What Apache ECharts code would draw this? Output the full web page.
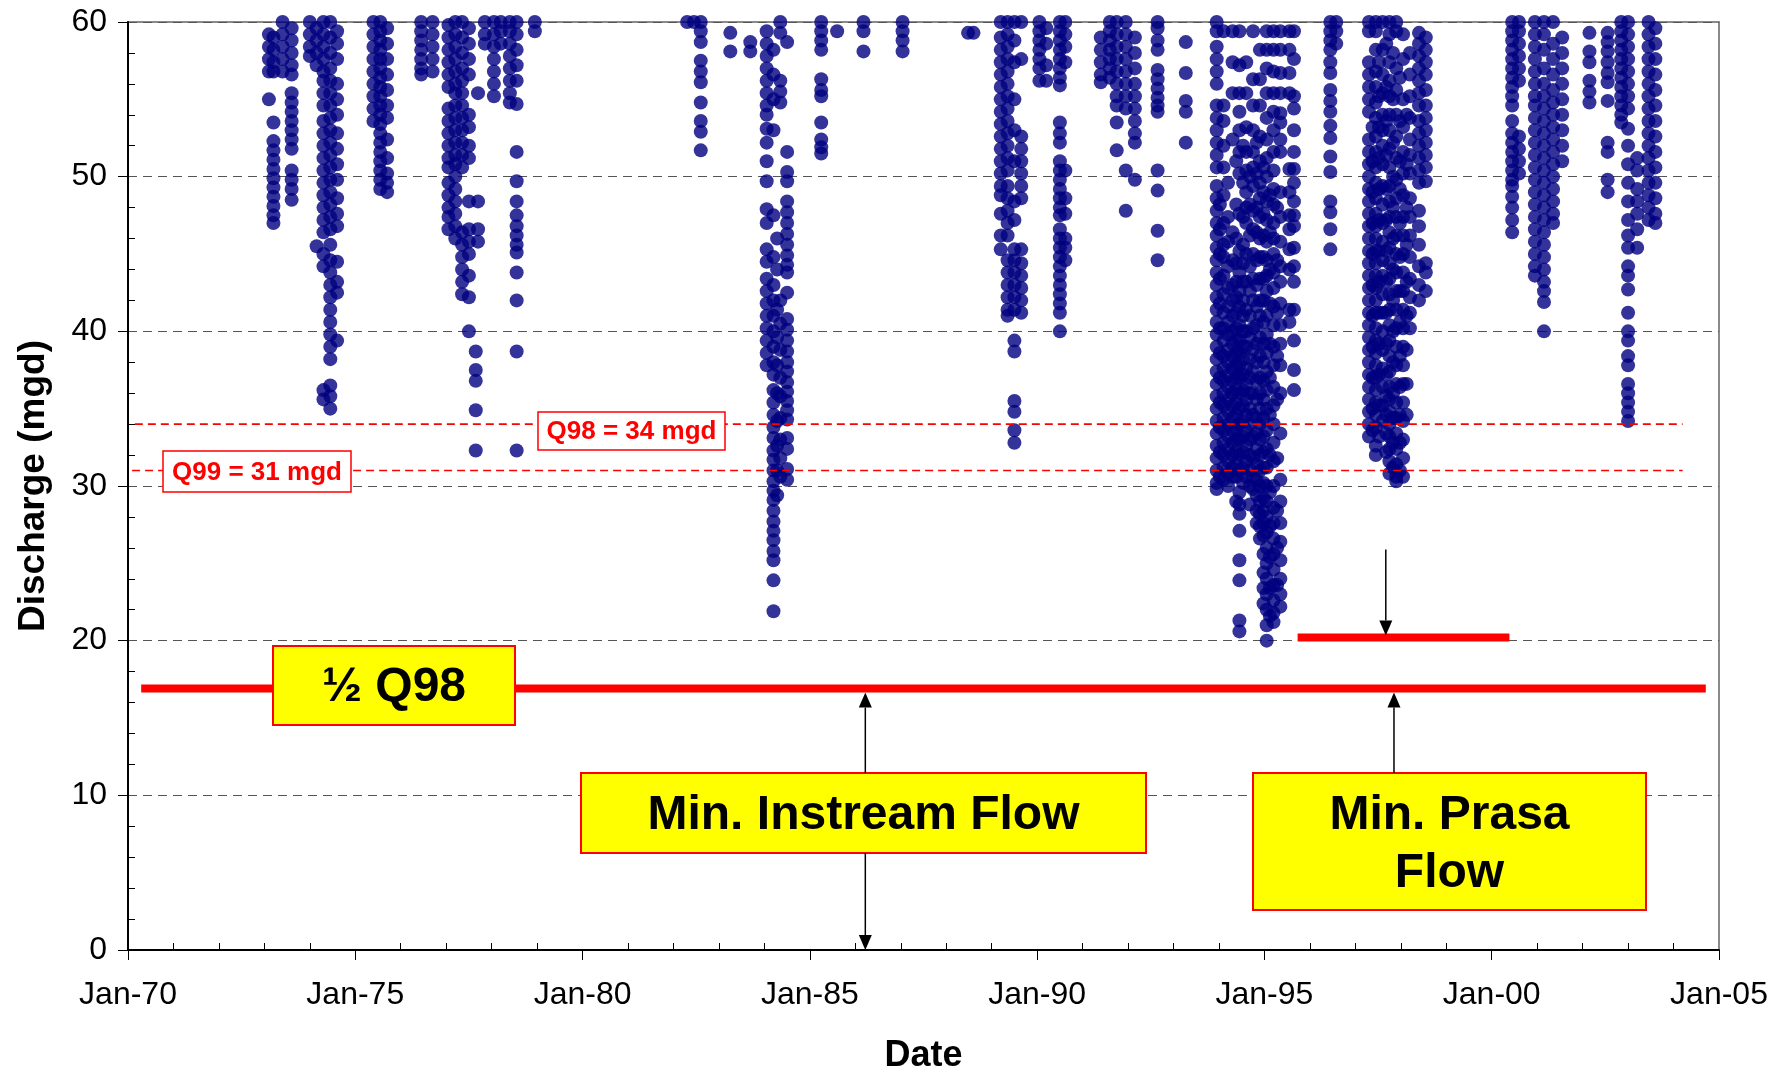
<!DOCTYPE html>
<html>
<head>
<meta charset="utf-8">
<title>Discharge record</title>
<script src="https://cdn.jsdelivr.net/npm/echarts@6/dist/echarts.min.js"></script>
<style>
  html, body { margin: 0; padding: 0; background: #fff; }
  #chart { width: 1791px; height: 1072px; }
</style>
</head>
<body>
<div id="chart"></div>
<script>
// Daily discharges below 60 mgd, grouped by date column: [decimal year, [mgd values]]
const flows1970s = [
  [1973.10, [59.2, 58.4, 57.6, 56.8, 55.0]],
  [1973.20, [59.0, 58.2, 57.4, 56.8, 53.5, 52.3, 51.7, 51.1, 50.5, 49.9, 49.3, 48.7, 48.1, 47.5, 47.0]],
  [1973.40, [60.0, 59.2, 58.4, 57.6, 56.8]],
  [1973.60, [59.6, 58.8, 58.0, 57.2, 56.6, 55.4, 54.8, 54.2, 53.6, 53.0, 52.4, 51.8, 50.4, 49.8, 49.2, 48.5]],
  [1974.00, [60.0, 59.2, 58.4, 57.8]],
  [1974.15, [59.6, 58.8, 58.0, 57.2, 45.5]],
  [1974.30, [60.0, 59.2, 58.4, 57.6, 56.8, 56.2, 55.4, 54.6, 53.6, 52.8, 52.0, 51.2, 50.4, 49.6, 48.8, 48.0, 47.2, 46.4, 45.0, 44.2, 36.2, 35.6]],
  [1974.45, [60.0, 59.0, 58.0, 57.0, 56.2, 55.4, 54.6, 53.8, 53.0, 52.2, 51.4, 50.6, 49.8, 49.0, 48.2, 47.4, 46.6, 45.6, 44.6, 43.8, 43.0, 42.2, 41.4, 40.6, 39.8, 39.0, 38.2, 36.5, 35.8, 35.0]],
  [1974.60, [59.4, 58.6, 57.6, 56.0, 55.0, 54.0, 52.8, 51.8, 50.8, 49.8, 48.6, 47.6, 46.8, 44.5, 43.2, 42.5, 39.4]],
  [1975.40, [60.0, 59.2, 58.4, 57.6, 56.8, 56.0, 55.2, 54.4, 53.6]],
  [1975.55, [60.0, 59.4, 58.8, 58.2, 57.6, 57.0, 56.4, 55.8, 55.2, 54.6, 54.0, 53.4, 52.8, 52.2, 51.6, 51.0, 50.4, 49.8, 49.2]],
  [1975.70, [59.6, 58.6, 57.6, 56.6, 55.6, 54.6, 53.8, 52.4, 51.2, 50.2, 49.6, 49.0]],
  [1976.45, [60.0, 59.4, 58.8, 58.2, 57.6, 57.0, 56.6]],
  [1976.70, [60.0, 59.2, 58.4, 57.6, 56.8]],
  [1977.05, [59.8, 59.0, 58.2, 57.4, 56.6, 55.8, 54.4, 53.6, 52.8, 52.0, 51.2, 50.6, 49.6, 48.8, 48.0, 47.4, 46.6]],
  [1977.20, [60.0, 59.2, 58.4, 57.6, 56.8, 56.0, 55.4, 54.6, 53.8, 53.0, 52.2, 51.4, 50.8, 50.0, 49.2, 48.4, 47.6, 46.8, 46.0]],
  [1977.35, [60.0, 59.0, 58.0, 57.0, 56.2, 55.4, 54.6, 53.8, 53.0, 52.2, 51.4, 50.6, 46.4, 45.6, 44.8, 44.0, 43.2, 42.4]],
  [1977.50, [59.6, 58.6, 57.6, 56.6, 54.0, 53.2, 52.0, 51.2, 48.4, 46.6, 45.8, 45.0, 43.6, 42.2, 40.0]],
  [1977.65, [38.7, 37.5, 36.8, 34.9, 32.3]],
  [1977.70, [55.4, 48.4, 46.6, 45.8]],
  [1977.85, [60.0, 59.2, 58.6]],
  [1978.05, [60.0, 59.2, 58.4, 57.6, 56.8, 56.0, 55.2]],
  [1978.20, [60.0, 59.4, 58.6]],
  [1978.40, [60.0, 59.4, 58.6, 57.8, 57.0, 56.2, 55.4, 54.8]],
  [1978.55, [60.0, 59.2, 58.2, 57.2, 56.2, 54.7, 51.6, 49.7, 48.4, 47.5, 46.8, 46.2, 45.6, 45.1, 43.8, 42.0, 38.7, 32.3]],
  [1978.95, [60.0, 59.4]]
];

const flows1980s = [
  [1982.30, [60.0]],
  [1982.45, [60.0]],
  [1982.60, [60.0, 59.4, 58.7, 57.5, 56.8, 56.1, 54.8, 53.6, 52.9, 51.7]],
  [1983.25, [59.3, 58.1]],
  [1983.69, [58.7, 58.1]],
  [1984.05, [59.4, 58.6, 57.8, 57.0, 56.2, 55.4, 54.6, 54.0, 53.1, 52.2, 51.0, 49.7, 47.9, 47.0, 45.3, 44.5, 43.4, 42.6, 41.8, 41.0, 40.2, 39.4, 38.6, 37.8]],
  [1984.20, [58.2, 56.6, 55.0, 53.0, 47.5, 44.8, 43.0, 42.0, 41.0, 40.0, 39.0, 38.0, 37.2, 36.2, 35.4, 34.6, 33.8, 33.1, 32.3, 31.7, 31.0, 30.3, 29.7, 29.1, 28.4, 27.7, 27.1, 26.5, 25.8, 25.2, 23.9, 21.9]],
  [1984.28, [46.0, 44.0, 41.4, 39.6, 37.8, 36.0, 34.2, 32.6, 31.0, 29.4]],
  [1984.35, [60.0, 59.3, 56.2, 55.5, 54.8, 42.0, 40.5, 38.8, 37.0, 35.8, 34.4, 33.0, 31.8, 30.6]],
  [1984.50, [58.7, 51.6, 50.3, 49.7, 48.4, 47.7, 47.0, 46.3, 45.6, 44.9, 44.3, 43.8, 42.5, 40.8, 40.1, 39.4, 38.7, 38.0, 37.4, 36.7, 36.1, 35.5, 34.9, 34.3, 33.1, 32.4, 31.1, 30.4]],
  [1985.25, [60.0, 59.4, 58.8, 58.2, 56.3, 55.6, 55.2, 53.5, 52.4, 51.9, 51.5]],
  [1985.60, [59.4]],
  [1986.18, [60.0, 59.4, 58.1]],
  [1987.04, [60.0, 59.4, 58.8, 58.1]],
  [1988.48, [59.3]],
  [1988.60, [59.3]],
  [1989.20, [60.0, 59.0, 58.2, 57.4, 56.6, 55.8, 55.0, 54.2, 53.4, 52.6, 51.8, 51.0, 50.2, 49.4, 48.8, 47.6, 46.2, 45.3]],
  [1989.35, [60.0, 59.2, 58.4, 57.6, 56.8, 56.0, 55.2, 54.4, 53.6, 52.8, 52.0, 51.2, 50.4, 49.4, 48.6, 47.8, 47.0, 46.2, 44.6, 43.8, 43.0, 42.2, 41.4, 41.0]],
  [1989.50, [60.0, 58.8, 57.4, 55.0, 53.0, 51.0, 48.4, 47.2, 45.3, 44.6, 43.8, 43.0, 42.2, 41.4, 39.4, 38.7, 35.5, 34.8, 33.6, 32.8]],
  [1989.65, [60.0, 57.6, 52.6, 51.8, 51.0, 50.2, 49.4, 48.6, 45.3, 44.4, 43.6, 42.8, 42.0, 41.2]]
];

const flows1990s = [
  [1990.05, [60.0, 59.4, 58.8, 58.2, 57.6, 57.0, 56.2]],
  [1990.20, [59.6, 58.6, 57.2, 56.2]],
  [1990.50, [60.0, 59.4, 58.8, 58.2, 57.6, 57.0, 56.4, 55.9, 53.5, 52.8, 52.2, 51.0, 50.4, 49.8, 49.2, 48.6, 48.0, 47.5, 46.6, 46.0, 45.4, 44.8, 44.2, 43.6, 43.0, 42.4, 41.8, 41.2, 40.0]],
  [1990.62, [60.0, 59.2, 58.4, 57.4, 50.4, 48.6, 47.6, 46.0, 45.4, 44.6]],
  [1991.40, [59.0, 58.2, 57.4, 56.6, 56.1]],
  [1991.60, [60.0, 59.4, 58.8, 58.2, 57.6, 57.0, 56.4]],
  [1991.75, [60.0, 59.2, 58.4, 57.6, 56.8, 56.0, 55.2, 54.6, 53.5, 51.7]],
  [1991.95, [60.0, 59.2, 58.4, 57.6, 56.8, 56.0, 55.2, 54.4, 50.4, 47.8]],
  [1992.15, [59.0, 58.0, 57.0, 56.0, 55.2, 54.4, 53.6, 52.8, 52.2, 49.8]],
  [1992.65, [60.0, 59.6, 58.8, 58.2, 56.9, 56.3, 55.7, 55.1, 54.6, 54.2, 50.4, 49.1, 46.5, 44.6]],
  [1993.27, [58.7, 56.7, 54.9, 54.2, 52.2]],
  [1993.95, [60.0, 59.4, 58.4, 57.6, 56.8, 56.0, 54.6, 53.8, 53.0, 52.2, 51.4, 50.6, 49.4, 48.6, 47.8, 47.0, 46.2, 45.4, 44.6, 43.8, 43.0, 42.2, 41.4, 40.6, 39.8, 39.0, 38.2, 37.4, 36.6, 35.8, 35.0, 34.2, 33.4, 32.6, 31.8, 31.0, 30.2, 29.8]],
  [1994.02, [48.2, 46.6, 45.0, 43.4, 41.8, 40.2, 38.6, 37.0, 35.4, 33.8, 32.2, 30.6]],
  [1994.10, [59.4, 54.6, 53.6, 52.0, 50.6, 48.8, 47.0, 45.6, 44.8, 43.6, 42.4, 41.2, 40.2, 39.4, 38.4, 37.6, 36.8, 36.0, 35.2, 34.4, 33.6, 32.8, 32.0, 31.2, 30.4]],
  [1994.20, [49.6, 47.4, 45.8, 44.2, 42.8, 41.6, 40.6, 39.8, 38.8, 38.0, 37.2, 36.4, 35.6, 34.8, 34.0, 33.2, 32.4, 31.6, 30.8, 30.0]],
  [1994.30, [59.4, 57.4, 55.4, 52.4, 46.4, 44.6, 43.0, 42.0, 41.0, 40.0, 39.2, 38.4, 37.6, 36.8, 36.0, 35.2, 34.4, 33.6, 32.8, 32.0, 31.2, 30.6]],
  [1994.38, [51.0, 48.2, 46.0, 44.4, 43.2, 42.2, 41.2, 40.2, 39.4, 38.6, 37.8, 37.0, 36.2, 35.4, 34.6, 33.8, 33.0, 32.2, 31.4, 30.6, 29.0]],
  [1994.45, [59.4, 57.2, 55.4, 54.2, 53.0, 51.6, 50.2, 47.6, 45.2, 43.8, 42.6, 41.6, 40.4, 39.4, 38.6, 37.8, 37.0, 36.0, 35.0, 34.0, 33.0, 32.0, 31.0, 29.6, 28.8, 28.2, 27.1, 25.2, 23.9, 21.3, 20.6]],
  [1994.53, [52.0, 49.6, 47.4, 45.6, 44.4, 43.2, 42.0, 41.0, 40.0, 39.0, 38.2, 37.2, 36.2, 35.2, 34.2, 33.2, 32.2, 31.2, 30.2]],
  [1994.60, [57.4, 55.4, 53.2, 51.6, 50.4, 49.0, 48.0, 47.0, 45.0, 43.2, 41.4, 40.0, 39.0, 37.6, 36.6, 35.6, 34.6, 33.6, 32.6, 31.6, 30.6]],
  [1994.68, [50.0, 48.2, 46.2, 44.2, 42.6, 41.0, 39.6, 38.2, 37.0, 36.0, 35.0, 34.0, 33.0, 32.0, 31.0, 30.0, 28.8]],
  [1994.75, [59.4, 56.3, 54.6, 53.0, 51.6, 50.6, 49.4, 47.8, 46.6, 45.0, 43.4, 42.0, 40.2, 38.8, 37.4, 36.0, 34.6, 33.2, 31.8, 30.6, 29.8]],
  [1994.83, [52.2, 50.2, 48.0, 46.4, 44.6, 43.0, 41.6, 40.4, 39.2, 38.0, 36.8, 35.6, 34.4, 33.4, 32.4, 31.4, 30.4, 29.4, 28.4, 27.6]],
  [1994.90, [58.2, 56.3, 54.6, 52.6, 51.0, 49.6, 48.6, 47.4, 46.0, 44.8, 43.4, 42.0, 41.0, 39.6, 38.4, 37.0, 36.0, 35.0, 34.0, 33.0, 32.0, 31.0, 30.0, 29.0, 28.2, 27.4, 26.6]],
  [1994.98, [50.6, 49.0, 47.6, 46.2, 44.8, 43.4, 42.0, 40.6, 39.2, 38.0, 36.8, 35.6, 34.4, 33.2, 32.2, 31.2, 30.2, 29.2, 28.4, 27.6, 26.8, 25.6, 24.4, 23.4, 22.4]],
  [1995.05, [59.4, 58.2, 57.0, 55.4, 53.8, 52.4, 51.2, 50.0, 48.4, 47.2, 45.8, 44.6, 43.6, 42.6, 41.0, 39.8, 38.6, 37.4, 36.2, 35.0, 33.6, 32.4, 31.2, 30.0, 29.0, 28.0, 27.0, 26.0, 25.0, 24.0, 23.0, 22.0, 21.0, 20.0]],
  [1995.12, [48.8, 46.4, 44.0, 41.8, 39.2, 37.0, 34.6, 32.0, 29.6, 27.4, 25.4, 23.4, 21.6]],
  [1995.20, [59.4, 58.2, 56.8, 55.4, 54.2, 53.0, 51.6, 50.4, 49.2, 48.2, 47.0, 46.0, 45.0, 43.8, 42.8, 41.6, 40.4, 39.0, 37.8, 36.4, 35.2, 34.0, 32.8, 31.6, 30.0, 28.6, 27.6, 26.6, 25.6, 24.6, 23.6, 22.6, 21.8, 21.2]],
  [1995.28, [48.0, 44.6, 41.2, 38.4, 35.6, 31.8, 28.4, 26.0, 23.6]],
  [1995.35, [59.4, 58.2, 56.7, 55.4, 54.1, 53.5, 52.4, 51.6, 49.0, 47.4, 45.8, 44.2, 43.2, 41.8, 40.4, 39.2, 37.8, 36.0, 33.4, 30.4, 29.0, 27.6, 26.4, 25.2, 24.0, 23.0, 22.2]],
  [1995.55, [59.4, 58.2, 56.7, 55.4, 50.5, 49.0, 47.5, 46.6, 45.3, 44.0, 41.4, 40.6]],
  [1995.65, [59.4, 57.6, 55.2, 54.4, 53.0, 51.6, 50.5, 49.6, 48.4, 47.5, 46.8, 45.4, 44.2, 43.2, 41.4, 39.4, 37.5, 36.2]],
  [1996.45, [60.0, 59.4, 58.8, 58.2, 57.4, 56.7, 55.6, 54.9, 54.2, 53.3, 52.5, 51.3, 50.3, 48.4, 47.7, 46.6, 45.3]],
  [1996.58, [60.0, 59.4, 58.6]],
  [1997.30, [60.0, 59.4, 57.4, 56.6, 55.8, 55.0, 54.2, 52.4, 51.6, 50.8, 50.0, 49.2, 48.4, 47.6, 46.8, 46.0, 45.2, 44.4, 43.6, 42.8, 42.0, 41.2, 40.4, 39.6, 38.8, 38.0, 37.2, 36.4, 35.6, 34.8, 34.0, 33.2]],
  [1997.38, [53.2, 51.0, 49.0, 47.0, 45.0, 43.0, 41.0, 39.0, 37.0, 35.0, 33.6]],
  [1997.45, [60.0, 59.4, 58.2, 56.8, 55.8, 54.8, 53.8, 52.6, 51.6, 50.6, 49.6, 48.6, 47.6, 46.8, 46.0, 45.2, 44.4, 43.6, 42.8, 42.0, 41.2, 40.2, 39.4, 38.6, 37.8, 37.0, 36.2, 35.4, 34.6, 33.8, 32.6, 32.0]],
  [1997.52, [57.4, 55.2, 53.2, 51.2, 49.2, 47.2, 45.2, 43.2, 41.2, 39.2, 37.2, 35.2, 33.2]],
  [1997.60, [60.0, 58.2, 56.6, 55.4, 54.0, 53.0, 52.0, 50.8, 49.4, 48.2, 47.0, 45.8, 44.6, 43.6, 42.4, 41.2, 40.0, 38.8, 37.6, 36.4, 35.2, 34.2]],
  [1997.68, [58.6, 55.8, 53.6, 51.4, 49.2, 47.2, 45.2, 43.2, 41.2, 39.2, 37.2, 35.8, 34.6, 33.4, 32.2]],
  [1997.75, [60.0, 59.2, 57.4, 56.2, 55.2, 54.0, 53.0, 51.8, 50.6, 49.4, 48.4, 47.4, 46.4, 45.4, 44.4, 43.4, 42.4, 41.4, 40.4, 39.4, 38.4, 37.4, 36.4, 35.6, 34.8, 34.0, 33.2, 32.4, 31.6, 30.8]],
  [1997.83, [58.0, 55.0, 52.2, 50.0, 48.0, 46.0, 44.0, 42.0, 40.0, 38.0, 36.0, 34.4, 32.8, 31.2]],
  [1997.90, [60.0, 59.4, 57.0, 55.6, 54.0, 52.6, 51.2, 49.8, 48.6, 47.4, 46.2, 45.0, 43.8, 42.6, 41.4, 40.2, 39.0, 37.8, 36.6, 35.4, 34.4, 33.4, 32.4, 31.4, 30.6, 30.3]],
  [1997.98, [56.4, 53.6, 51.0, 49.2, 47.0, 44.8, 42.6, 40.6, 38.4, 36.4, 34.6, 32.8, 31.0]],
  [1998.05, [59.2, 57.6, 55.0, 53.2, 51.6, 50.2, 48.8, 47.4, 46.2, 45.0, 43.8, 42.6, 41.4, 40.2, 39.0, 37.8, 36.6, 35.4, 34.2, 33.0, 31.8, 30.6]],
  [1998.13, [54.0, 50.8, 48.0, 45.6, 43.2, 41.0, 38.8, 36.6, 34.6]],
  [1998.20, [58.0, 56.6, 55.2, 53.8, 52.4, 51.4, 50.2, 48.6, 47.4, 46.2, 44.8, 43.4, 42.2, 41.2, 40.2]],
  [1998.40, [59.3, 58.6, 57.8, 57.0, 56.2, 55.4, 54.6, 53.6, 52.8, 52.0, 51.2, 50.4, 49.6, 47.8, 46.8, 45.6, 44.2, 43.0, 42.0]],
  [1998.55, [59.0, 58.2, 57.4, 56.6, 55.6, 54.6, 53.8, 53.0, 52.2, 51.4, 50.6, 49.7, 44.4, 43.8, 42.6]]
];

const flows2000s = [
  [2000.45, [60.0, 59.4, 58.8, 58.2, 57.6, 57.0, 56.4, 55.8, 55.2, 54.6, 53.6, 52.8, 52.2, 51.6, 51.0, 50.4, 49.8, 49.4, 48.7, 48.0, 47.2, 46.4]],
  [2000.60, [60.0, 59.4, 58.6, 57.8, 57.0, 56.2, 52.6, 51.8, 51.0, 50.2]],
  [2000.95, [60.0, 59.2, 58.4, 57.6, 56.8, 56.0, 55.2, 54.6, 53.8, 53.0, 52.2, 51.4, 50.6, 49.8, 49.0, 48.2, 47.4, 46.6, 45.8, 45.0, 44.2, 43.6]],
  [2001.15, [60.0, 59.2, 58.2, 57.0, 56.0, 55.2, 54.4, 53.6, 52.8, 52.0, 51.2, 50.4, 49.6, 48.8, 48.0, 47.2, 46.4, 45.6, 44.8, 44.0, 43.2, 42.6, 41.9, 40.0]],
  [2001.35, [60.0, 58.6, 57.6, 56.6, 55.6, 54.8, 54.0, 53.2, 52.4, 51.6, 50.8, 50.0, 49.2, 48.4, 47.6, 47.0]],
  [2001.55, [59.0, 58.0, 57.0, 56.0, 55.0, 54.0, 53.0, 52.0, 51.0]],
  [2002.15, [59.3, 58.1, 57.4, 56.2, 55.5, 54.8]],
  [2002.55, [59.3, 58.7, 58.1, 57.4, 56.7, 56.1, 54.9, 52.2, 51.6, 49.8, 49.0]],
  [2002.85, [60.0, 59.4, 58.8, 58.2, 57.6, 57.0, 56.4, 55.8, 55.2, 54.6, 54.0, 53.5]],
  [2003.00, [60.0, 59.2, 58.4, 57.6, 56.8, 56.0, 55.2, 54.4, 53.1, 52.0, 50.8, 49.6, 48.4, 47.2, 46.2, 45.4, 44.2, 43.6, 42.7, 41.2, 40.0, 39.4, 38.4, 37.8, 36.6, 36.0, 35.4, 34.8, 34.2]],
  [2003.20, [51.2, 50.4, 49.2, 48.4, 47.6, 46.6, 45.4]],
  [2003.45, [60.0, 59.2, 58.4, 57.6, 56.8, 56.0, 55.2, 54.4, 53.6, 52.8, 52.0, 51.2, 50.4, 49.6, 48.8, 48.0, 47.2]],
  [2003.60, [59.6, 58.6, 57.6, 56.6, 55.6, 54.6, 53.6, 52.6, 51.6, 50.6, 49.6, 48.6, 47.6, 47.0]]
];

// Reference flow levels (mgd) and the spans they are drawn over (decimal years)
const q98 = 34;
const q99 = 31;
const halfQ98 = 16.9;
const prasaMin = 20.2;
const q98Span = [1970.15, 2004.2];
const q99Span = [1970.09, 2004.2];
const halfQ98Span = [1970.29, 2004.71];
const prasaSpan = [1995.73, 2000.39];

// Arrow anchors (decimal years; mgd where the Prasa arrow starts)
const instreamArrowYear = 1986.22;
const prasaUpArrowYear = 1997.85;
const prasaDownArrowYear = 1997.67;
const prasaDownArrowStart = 25.9;

const FONT = '"Liberation Sans", Arial, Helvetica, sans-serif';
const toPoints = cols => cols.flatMap(([yr, vals]) => vals.map(v => [yr, v]));
const flowPoints = toPoints([...flows1970s, ...flows1980s, ...flows1990s, ...flows2000s]);

const levelLine = (span, level, style) => ({
  type: 'line',
  data: [[span[0], level], [span[1], level]],
  symbol: 'none',
  silent: true,
  z: 5,
  lineStyle: style,
  xAxisIndex: 0,
  yAxisIndex: 0
});

const chart = echarts.init(document.getElementById('chart'), null, { renderer: 'canvas' });

chart.setOption({
  animation: false,
  backgroundColor: '#ffffff',
  grid: {
    left: 128, right: 72, top: 22, bottom: 122,
    containLabel: false, outerBoundsMode: 'none',
    show: true, borderColor: '#8a8a8a', borderWidth: 2
  },
  xAxis: [
    {
      type: 'value', min: 1970, max: 2005, interval: 5, position: 'bottom',
      axisLine: { show: true, onZero: false, lineStyle: { color: '#000', width: 2 } },
      axisTick: { show: true, length: 10, lineStyle: { color: '#000', width: 1 } },
      axisLabel: {
        fontSize: 32, color: '#000', fontFamily: FONT, margin: 29,
        formatter: v => 'Jan-' + String(Math.round(v) % 100).padStart(2, '0')
      },
      splitLine: { show: false },
      name: 'Date', nameLocation: 'middle', nameGap: 88,
      nameTextStyle: { fontSize: 36, fontWeight: 'bold', color: '#000', fontFamily: FONT }
    },
    {
      type: 'value', min: 1970, max: 2005, interval: 5, position: 'bottom',
      axisLine: { show: false },
      axisTick: { show: false, inside: true },
      minorTick: { show: true, splitNumber: 5, length: 7, lineStyle: { color: '#000', width: 1 } },
      axisLabel: { show: false },
      splitLine: { show: false }
    }
  ],
  yAxis: [
    {
      type: 'value', min: 0, max: 60, interval: 10, position: 'left',
      axisLine: { show: true, onZero: false, lineStyle: { color: '#000', width: 2 } },
      axisTick: { show: true, length: 10, lineStyle: { color: '#000', width: 1 } },
      axisLabel: { fontSize: 32, color: '#000', fontFamily: FONT, margin: 21 },
      splitLine: { show: true, lineStyle: { color: '#555', width: 1, type: [9, 6] } },
      name: 'Discharge (mgd)', nameLocation: 'middle', nameGap: 76, nameRotate: 90,
      nameTextStyle: { fontSize: 37, fontWeight: 'bold', color: '#000', fontFamily: FONT }
    },
    {
      type: 'value', min: 0, max: 60, interval: 10, position: 'left',
      axisLine: { show: false },
      axisTick: { show: false, inside: true },
      minorTick: { show: true, splitNumber: 5, length: 7, lineStyle: { color: '#000', width: 1 } },
      axisLabel: { show: false },
      splitLine: { show: false }
    }
  ],
  series: [
    {
      type: 'scatter',
      data: flowPoints,
      symbol: 'circle',
      symbolSize: 14,
      clip: false,
      silent: true,
      z: 3,
      itemStyle: { color: '#000080' },
      xAxisIndex: 0,
      yAxisIndex: 0
    },
    levelLine(q99Span, q99, { color: '#ff0000', width: 1.6, type: [8, 5] }),
    levelLine(q98Span, q98, { color: '#ff0000', width: 1.6, type: [8, 5] }),
    levelLine(halfQ98Span, halfQ98, { color: '#ff0000', width: 8, cap: 'butt' }),
    levelLine(prasaSpan, prasaMin, { color: '#ff0000', width: 8, cap: 'butt' })
  ]
});

// Annotations: labelled boxes and arrows, anchored through the chart's own axes
const px = (x, y) => chart.convertToPixel({ seriesIndex: 0 }, [x, y]);

const boxStyle = { fill: '#ffff00', stroke: '#ff0000', lineWidth: 2 };
const labelBoxStyle = { fill: '#ffffff', stroke: '#ff0000', lineWidth: 1.5 };
const bigFont = 'bold 48px ' + FONT;
const smallFont = 'bold 26px ' + FONT;

function box(x, y, w, h, style) {
  return { type: 'rect', z: 20, shape: { x, y, width: w, height: h }, style };
}
function text(str, x, y, font, color) {
  return { type: 'text', z: 21, x, y, style: { text: str, font, fill: color, align: 'center', verticalAlign: 'middle' } };
}
function arrow(x, yFrom, yTip) {
  const dir = yTip > yFrom ? 1 : -1;
  const headLen = 15, headHalf = 6.5;
  return [
    { type: 'line', z: 22, shape: { x1: x, y1: yFrom, x2: x, y2: yTip - dir * headLen },
      style: { stroke: '#000', lineWidth: 1.5 } },
    { type: 'polygon', z: 22,
      shape: { points: [[x, yTip], [x - headHalf, yTip - dir * headLen], [x + headHalf, yTip - dir * headLen]] },
      style: { fill: '#000' } }
  ];
}

const yHalf = px(1970, halfQ98)[1];
const yPrasa = px(1970, prasaMin)[1];
const yZero = px(1970, 0)[1];
const xInstream = px(instreamArrowYear, 0)[0];
const xPrasaUp = px(prasaUpArrowYear, 0)[0];
const xPrasaDown = px(prasaDownArrowYear, 0)[0];
const yPrasaStart = px(1970, prasaDownArrowStart)[1];

const instreamBox = [581, 773, 565, 80];
const prasaBox = [1253, 773, 393, 137];
const halfBox = [273, 646, 242, 79];
const q98Box = [538, 412, 187, 38];
const q99Box = [163, 451, 188, 41];

const elements = [
  box(...q99Box, labelBoxStyle),
  text(`Q99 = ${q99} mgd`, q99Box[0] + q99Box[2] / 2, q99Box[1] + q99Box[3] / 2 + 1, smallFont, '#ff0000'),
  box(...q98Box, labelBoxStyle),
  text(`Q98 = ${q98} mgd`, q98Box[0] + q98Box[2] / 2, q98Box[1] + q98Box[3] / 2 + 1, smallFont, '#ff0000'),
  box(...halfBox, boxStyle),
  text('\u00bd Q98', halfBox[0] + halfBox[2] / 2, halfBox[1] + halfBox[3] / 2 + 2, bigFont, '#000'),
  box(...instreamBox, boxStyle),
  text('Min. Instream Flow', instreamBox[0] + instreamBox[2] / 2, instreamBox[1] + instreamBox[3] / 2 + 3, bigFont, '#000'),
  box(...prasaBox, boxStyle),
  text('Min. Prasa', prasaBox[0] + prasaBox[2] / 2, 816, bigFont, '#000'),
  text('Flow', prasaBox[0] + prasaBox[2] / 2, 874, bigFont, '#000'),
  ...arrow(xInstream, instreamBox[1], yHalf + 4),
  ...arrow(xInstream, instreamBox[1] + instreamBox[3], yZero),
  ...arrow(xPrasaUp, prasaBox[1], yHalf + 4),
  ...arrow(xPrasaDown, yPrasaStart, yPrasa - 2)
];

chart.setOption({ graphic: { elements } });
</script>
</body>
</html>
